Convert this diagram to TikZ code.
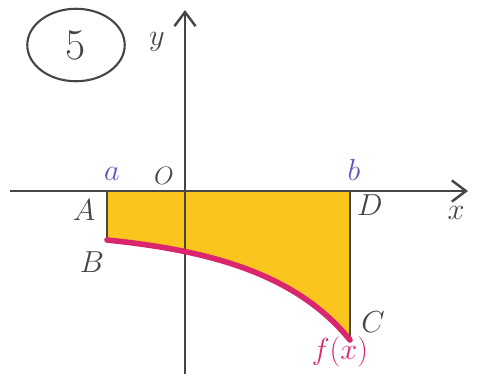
\documentclass[tikz,border=0pt]{standalone}
\usepackage{xcolor}
\definecolor{mlyellow}{RGB}{250,198,30}
\definecolor{mlmagenta}{RGB}{218,38,110}
\definecolor{mlviolet}{RGB}{88,88,190}
\definecolor{mlaxis}{RGB}{70,70,70}
\usetikzlibrary{arrows.meta,positioning,shapes.geometric}

\begin{document}
\begin{tikzpicture}[x=0.02cm,y=-0.02cm,
  axisline/.style={-{Straight Barb[length=8pt,width=12pt]},line width=1.4pt,mlaxis},
  edgeline/.style={line width=1.6pt,mlaxis},
  fncurve/.style={line width=3.2pt,mlmagenta,line cap=round},
  ptlabel/.style={font=\LARGE,text=mlaxis},
  endlabel/.style={font=\LARGE,text=mlviolet}
]
  \useasboundingbox (0,0) rectangle (485,376);
  % corners of the area
  \coordinate (A) at (107,191);
  \coordinate (B) at (107,240);
  \coordinate (C) at (350,340);
  \coordinate (D) at (350,191);
  % axis ends
  \coordinate (xl) at (10,191);
  \coordinate (xr) at (468,191);
  \coordinate (yb) at (185,374);
  \coordinate (yt) at (185,10);
  % shaded area under the x-axis
  \fill[mlyellow] (A) -- (B) .. controls (205,250) and (295,272) .. (C) -- (D) -- cycle;
  % axes
  \draw[axisline] (xl) -- (xr);
  \draw[axisline] (yb) -- (yt);
  % sides and curve
  \draw[edgeline] (A) -- (B);
  \draw[edgeline] (D) -- (C);
  \draw[fncurve] (B) .. controls (205,250) and (295,272) .. (C);
  % number
  \node[ellipse,draw=mlaxis,line width=1.2pt,minimum width=1.95cm,minimum height=1.45cm,
    font=\Huge,text=mlaxis] (num) at (76,45) {5};
  % labels
  \node[ptlabel] (lby) at (157,42) {$y$};
  \node[ptlabel] (lbx) at (456,213) {$x$};
  \node[endlabel] (lba) at (112,174) {$a$};
  \node[ptlabel,font=\Large] (lbO) at (164,176) {$O$};
  \node[endlabel] (lbb) at (354,170) {$b$};
  \node[ptlabel] (lbA) at (84,210) {$A$};
  \node[ptlabel] (lbB) at (92,262) {$B$};
  \node[ptlabel] (lbD) at (370,205) {$D$};
  \node[ptlabel] (lbC) at (373,322) {$C$};
  \node[font=\LARGE,text=mlmagenta] (lbf) at (340,352) {$f(x)$};
\end{tikzpicture}
\end{document}
